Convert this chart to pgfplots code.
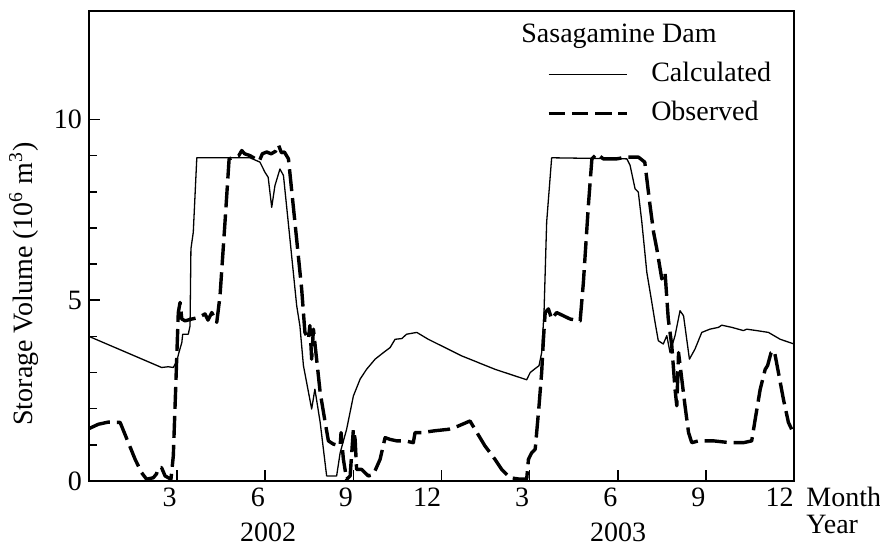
\documentclass[border=0pt]{standalone}
\usepackage{fontspec}
\setmainfont{Liberation Serif}
\usepackage{pgfplots}
\pgfplotsset{compat=1.18}
\pgfplotsset{legend image code/.code={\draw[#1] (0pt,0pt) -- (39pt,0pt);}}

\begin{document}
\begin{tikzpicture}[font=\fontsize{14}{16.8}\selectfont]
\begin{axis}[
  at={(0pt,0pt)}, anchor=south west,
  scale only axis, width=352.5pt, height=235pt,
  xmin=0, xmax=24, ymin=0, ymax=13,
  axis line style={line width=0.9pt},
  tick align=inside, xtick pos=bottom, ytick pos=left,
  xtick={3,6,...,24}, xticklabels={3,6,9,12,3,6,9,12},
  xticklabel style={anchor=north east, inner xsep=0pt},
  ytick={0,5,10}, minor ytick={1,2,3,4,6,7,8,9},
  major tick length=5.5pt, minor tick length=4pt,
  tick style={line width=0.8pt, black},
  /pgf/number format/assume math mode=true,
  ylabel={Storage Volume (10\textsuperscript{6} m\textsuperscript{3})},
  ylabel style={at={(axis description cs:-0.0922,0.419)}, anchor=center},
  legend style={draw=none, fill=none, inner sep=0pt, outer sep=0pt,
    at={(axis description cs:0.6496,0.8234)}, anchor=west,
    row sep=7.25pt, column sep=11.5pt,
    nodes={inner sep=0pt, text height=9.5pt, text depth=2.5pt}},
  legend cell align=left,
]
% computed storage (simulation)
\addplot[black, line width=0.65pt, line join=round, forget plot] coordinates {
(0,4.00) (2.47,3.14) (2.70,3.16) (2.87,3.14) (2.99,3.32) (3.06,3.55)
(3.16,3.83) (3.19,4.06) (3.38,4.06) (3.44,4.29) (3.47,6.42) (3.55,6.88)
(3.67,8.94) (5.48,8.94) (5.82,8.82) (5.99,8.54) (6.10,8.40) (6.22,7.57)
(6.33,8.17) (6.50,8.63) (6.62,8.45) (6.84,6.70) (7.07,4.85) (7.18,4.29)
(7.30,3.19) (7.41,2.72) (7.58,1.99) (7.69,2.54) (7.87,1.62) (8.09,0.14)
(8.43,0.14) (8.55,0.78) (8.77,1.43) (9.00,2.35) (9.23,2.82) (9.45,3.09)
(9.74,3.37) (10.02,3.55) (10.25,3.69) (10.42,3.92) (10.65,3.94) (10.81,4.06)
(11.16,4.11) (11.55,3.92) (12.69,3.46) (13.82,3.09) (14.90,2.80) (15.02,3.00)
(15.19,3.11) (15.32,3.19) (15.41,3.55) (15.49,4.66) (15.58,7.16) (15.75,8.94)
(18.31,8.91) (18.42,8.73) (18.59,8.08) (18.70,7.99) (18.82,7.16) (18.99,5.77)
(19.16,4.94) (19.27,4.39) (19.38,3.88) (19.55,3.79) (19.67,4.02) (19.78,3.55)
(19.95,4.02) (20.12,4.71) (20.24,4.57) (20.44,3.37) (20.63,3.65) (20.86,4.11)
(21.14,4.20) (21.43,4.25) (21.54,4.31) (21.88,4.25) (22.28,4.16) (22.39,4.20)
(22.73,4.16) (23.13,4.11) (23.53,3.92) (24.00,3.79)
};
% observed storage
\addplot[black, line width=1.7pt, line join=round, dash pattern=on 11pt off 3.5pt, forget plot] coordinates {
(0,1.45) (0.32,1.57) (0.66,1.63) (1.06,1.62) (1.34,1.06) (1.57,0.60)
(1.79,0.23) (1.96,0.05) (2.19,0.09) (2.30,0.20) (2.36,0.37) (2.47,0.37)
(2.59,0.14) (2.79,0.05) (2.87,0.69) (2.95,2.54) (3.04,4.66) (3.10,4.94)
(3.16,4.48) (3.27,4.43) (3.50,4.48) (3.72,4.52) (3.95,4.62) (4.05,4.45)
(4.18,4.66) (4.35,4.39) (4.46,5.12) (4.63,7.16) (4.77,8.91) (4.97,8.96)
(5.10,9.00) (5.20,9.14) (5.30,9.05) (5.48,9.00) (5.65,8.92) (5.80,8.85)
(5.90,9.05) (6.05,9.10) (6.20,9.05) (6.35,9.12) (6.45,9.30) (6.55,9.08)
(6.65,9.10) (6.79,8.91) (7.01,7.16) (7.24,5.31) (7.35,4.11) (7.47,3.92)
(7.52,4.30) (7.58,3.37) (7.64,4.20) (7.70,3.74) (7.87,2.45) (8.04,1.62)
(8.15,1.11) (8.32,1.02) (8.55,0.97) (8.58,1.34) (8.66,0.60) (8.77,0.05)
(8.89,0.14) (9.00,1.43) (9.06,1.15) (9.11,0.32) (9.28,0.32) (9.51,0.14)
(9.68,0.18) (9.91,0.60) (10.08,1.20) (10.25,1.15) (10.48,1.11) (10.76,1.11)
(11.04,1.06) (11.10,1.34) (11.33,1.34) (11.78,1.39) (12.24,1.43) (12.57,1.52)
(12.97,1.66) (13.14,1.43) (13.48,0.97) (13.82,0.60) (14.05,0.32) (14.33,0.09)
(14.67,0.05) (14.90,0.05) (14.96,0.60) (15.07,0.78) (15.19,0.88) (15.24,1.34)
(15.32,2.08) (15.41,3.00) (15.47,3.92) (15.53,4.66) (15.64,4.76) (15.75,4.48)
(15.92,4.66) (16.15,4.57) (16.38,4.48) (16.72,4.43) (16.83,5.49) (17.00,7.62)
(17.12,8.91) (17.29,9.05) (17.51,8.91) (17.96,8.91) (18.31,8.96) (18.70,8.96)
(18.92,8.82) (19.10,7.62) (19.22,6.88) (19.33,6.42) (19.50,5.59) (19.61,5.77)
(19.72,4.48) (19.84,3.74) (19.95,2.54) (20.01,2.08) (20.07,3.55) (20.18,2.82)
(20.29,2.08) (20.41,1.34) (20.52,1.06) (20.75,1.11) (21.26,1.11) (21.82,1.06)
(22.28,1.06) (22.56,1.11) (22.68,1.71) (22.85,2.54) (23.02,3.09) (23.10,3.19)
(23.22,3.55) (23.33,3.60) (23.47,3.00) (23.64,2.26) (23.81,1.62) (23.92,1.43)
};
\addlegendimage{black, line width=0.65pt}
\addlegendentry{Calculated}
\addlegendimage{black, line width=1.65pt, dash pattern=on 8.3pt off 3.3pt}
\addlegendentry{Observed}
\end{axis}
% title of the key and the axis captions below
\node[anchor=base west, inner sep=0pt] at (216pt,219pt) {Sasagamine Dam};
\node[anchor=base west, inner sep=0pt] at (358.5pt,-13pt) {Month};
\node[anchor=base west, inner sep=0pt] at (358.5pt,-26.5pt) {Year};
\node[anchor=base, inner sep=0pt] at (89.5pt,-30.5pt) {2002};
\node[anchor=base, inner sep=0pt] at (264.5pt,-30.5pt) {2003};
\pgfresetboundingbox
\path[use as bounding box] (-44.5pt,-33pt) rectangle (395.5pt,240.5pt);
\end{tikzpicture}
\end{document}
